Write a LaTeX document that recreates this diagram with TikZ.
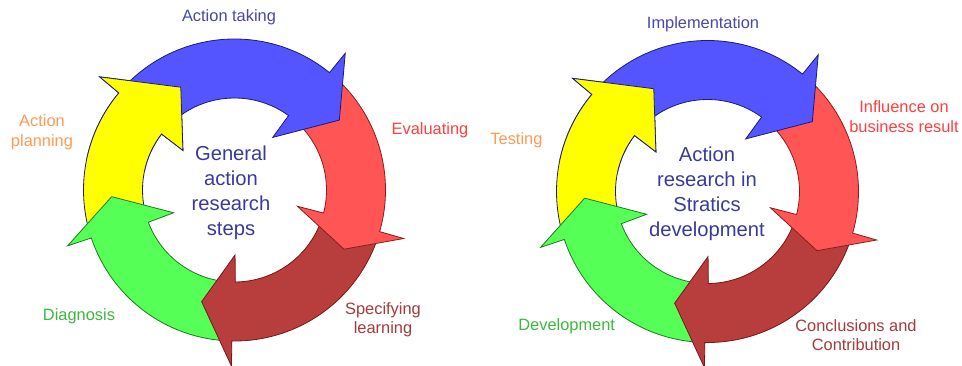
\documentclass[tikz,border=0pt]{standalone}
\usepackage{fontspec}
\setmainfont{Liberation Sans}
\definecolor{cBlue}{HTML}{5555FF}
\definecolor{cBlueD}{HTML}{1C1C78}
\definecolor{cRed}{HTML}{FF5555}
\definecolor{cRedD}{HTML}{8C1C1C}
\definecolor{cBrown}{HTML}{B83E3E}
\definecolor{cBrownD}{HTML}{741818}
\definecolor{cGreen}{HTML}{55FF55}
\definecolor{cGreenD}{HTML}{1E7A1E}
\definecolor{cYellow}{HTML}{FFFF00}
\definecolor{tBlue}{HTML}{4848A8}
\definecolor{tCenter}{HTML}{3A3A9E}
\definecolor{tRed}{HTML}{FF3F3F}
\definecolor{tBrown}{HTML}{A63A3A}
\definecolor{tGreen}{HTML}{3DB83D}
\definecolor{tOrange}{HTML}{FF9B55}
% #1 fill, #2 outline, #3 tail angle, #4 outer base angle, #5 inner base angle, #6 tip angle, #7 tip radius
\newcommand\cycarrow[7]{%
  \fill[#1] (#3:151pt) arc[start angle=#3,end angle=#4,radius=151pt]
    -- (#4:176pt) -- (#6:#7pt) -- (#5:65pt) -- (#5:92pt)
    arc[start angle=#5,end angle=#3,radius=92pt] -- cycle;
  \draw[arrowline,#2] (#3:151pt) arc[start angle=#3,end angle=#4,radius=151pt]
    -- (#4:176pt) -- (#6:#7pt) -- (#5:65pt) -- (#5:92pt)
    arc[start angle=#5,end angle=#3,radius=92pt];
}
\newcommand\arrowset{%
  \cycarrow{cYellow}{cBlueD}{-162.5}{-220}{-217.5}{-242.4}{116}
  \cycarrow{cGreen}{cGreenD}{-92}{-161.5}{-159.5}{-176.9}{123}
  \cycarrow{cBrown}{cBrownD}{-17}{-91}{-89.5}{-106.4}{116.4}
  \cycarrow{cRed}{cRedD}{50}{-16}{-14.5}{-28.4}{124.5}
  \cycarrow{cBlue}{cBlueD}{139}{51}{54}{33.7}{126}
  \cycarrow{cYellow}{cBlueD}{-192}{-220}{-217.5}{-242.4}{116}
}
\tikzset{
  arrowline/.style={line width=0.8pt,line join=miter},
  lbl/.style={font=\fontsize{16.4}{19.5}\selectfont,inner sep=0pt,align=center},
  ctr/.style={font=\fontsize{20.2}{25}\selectfont,text=tCenter,inner sep=0pt,align=center}
}
\begin{document}
\begin{tikzpicture}[x=1pt,y=1pt]
\useasboundingbox (0,0) rectangle (962,365);
\fill[white] (0,0) rectangle (962,365);
\begin{scope}[shift={(234.5pt,175pt)}]\arrowset\end{scope}
\begin{scope}[shift={(707.5pt,173.5pt)}]\arrowset\end{scope}
% left labels
\node[lbl,text=tBlue,anchor=base] (takingL) at (229,343.3) {Action taking};
\node[lbl,text=tOrange,anchor=north] (planL) at (42,250.2) {Action\\planning};
\node[lbl,text=tRed,anchor=base] (evalL) at (430,230) {Evaluating};
\node[lbl,text=tBrown,anchor=north] (specL) at (383,62.9) {Specifying\\learning};
\node[lbl,text=tGreen,anchor=base] (diagL) at (79,45) {Diagnosis};
\node[ctr,anchor=north] (ctrL) at (231,219.6) {General\\action\\research\\steps};
% right labels
\node[lbl,text=tBlue,anchor=base] (implR) at (703,336.7) {Implementation};
\node[lbl,text=tOrange,anchor=base] (testR) at (516.4,220.7) {Testing};
\node[lbl,text=tRed,anchor=north] (inflR) at (904,264.4) {Influence on\\business result};
\node[lbl,text=tBrown,anchor=north] (conclR) at (856,45.9) {Conclusions and\\Contribution};
\node[lbl,text=tGreen,anchor=base] (devR) at (566.7,34.5) {Development};
\node[ctr,anchor=north] (ctrR) at (707,217.9) {Action\\research in\\Stratics\\development};
\end{tikzpicture}
\end{document}
